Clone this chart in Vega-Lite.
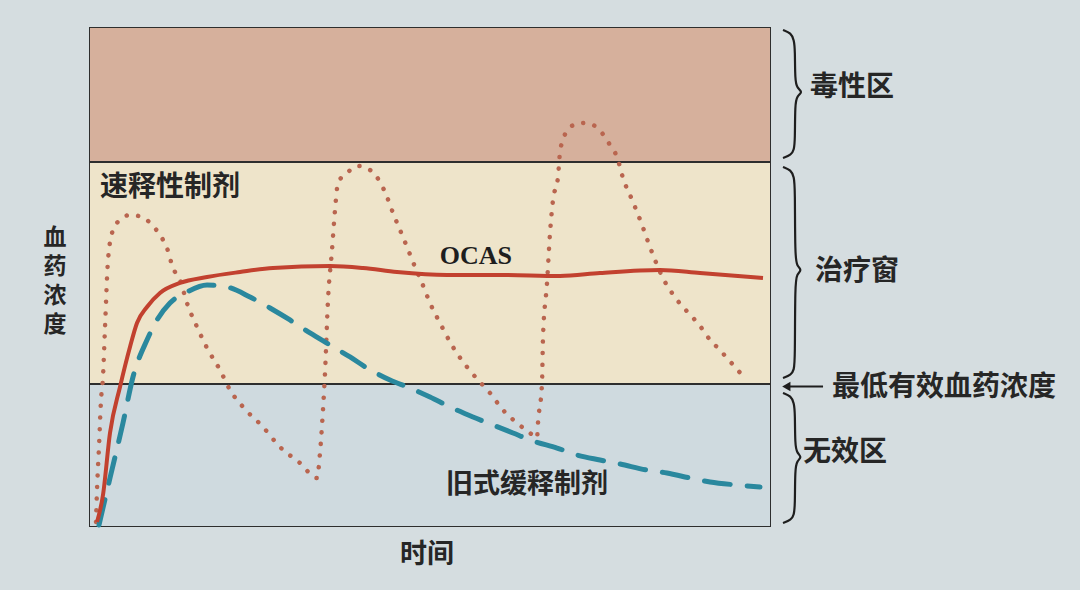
{
  "$schema": "https://vega.github.io/schema/vega-lite/v6.json",
  "width": 680,
  "height": 498,
  "autosize": {"type": "none"},
  "padding": {"left": 90, "top": 28, "right": 310, "bottom": 64},
  "background": "#d5dde0",
  "config": {"view": {"stroke": "#2e2e2e", "strokeWidth": 2}},
  "datasets": {
    "zones": [
      {"zone": "无效区", "lo": 0, "hi": 28.5},
      {"zone": "治疗窗", "lo": 28.5, "hi": 73.1},
      {"zone": "毒性区", "lo": 73.1, "hi": 100}
    ],
    "limits": [{"c": 28.5}, {"c": 73.1}],
    "ocas": [
      {"i": 0, "t": 1.03, "c": 0.8}, {"i": 1, "t": 1.91, "c": 6.22}, {"i": 2, "t": 2.94, "c": 18.67},
      {"i": 3, "t": 4.41, "c": 27.91}, {"i": 4, "t": 5.88, "c": 35.94}, {"i": 5, "t": 6.91, "c": 40.76},
      {"i": 6, "t": 8.38, "c": 43.98}, {"i": 7, "t": 10.29, "c": 46.79}, {"i": 8, "t": 13.24, "c": 48.8},
      {"i": 9, "t": 17.21, "c": 50.0}, {"i": 10, "t": 22.06, "c": 51.0}, {"i": 11, "t": 26.91, "c": 51.81},
      {"i": 12, "t": 35.29, "c": 52.21}, {"i": 13, "t": 40.15, "c": 51.81}, {"i": 14, "t": 45.15, "c": 51.0},
      {"i": 15, "t": 52.5, "c": 50.4}, {"i": 16, "t": 60.29, "c": 50.4}, {"i": 17, "t": 69.12, "c": 50.2},
      {"i": 18, "t": 75.0, "c": 50.8}, {"i": 19, "t": 83.82, "c": 51.41}, {"i": 20, "t": 89.71, "c": 50.8},
      {"i": 21, "t": 98.97, "c": 49.8}
    ],
    "old": [
      {"i": 0, "t": 1.32, "c": 0.2}, {"i": 1, "t": 2.94, "c": 9.64}, {"i": 2, "t": 4.85, "c": 20.68},
      {"i": 3, "t": 6.32, "c": 29.92}, {"i": 4, "t": 8.38, "c": 37.35}, {"i": 5, "t": 9.85, "c": 41.37},
      {"i": 6, "t": 11.76, "c": 44.78}, {"i": 7, "t": 14.26, "c": 46.99}, {"i": 8, "t": 17.21, "c": 48.39},
      {"i": 9, "t": 20.15, "c": 47.99}, {"i": 10, "t": 23.53, "c": 45.98}, {"i": 11, "t": 26.47, "c": 43.78},
      {"i": 12, "t": 29.41, "c": 41.37}, {"i": 13, "t": 32.35, "c": 38.76}, {"i": 14, "t": 35.29, "c": 36.35},
      {"i": 15, "t": 38.24, "c": 33.94}, {"i": 16, "t": 40.74, "c": 31.73}, {"i": 17, "t": 44.12, "c": 29.32},
      {"i": 18, "t": 47.06, "c": 27.71}, {"i": 19, "t": 50.0, "c": 25.9}, {"i": 20, "t": 52.94, "c": 23.9},
      {"i": 21, "t": 56.32, "c": 21.89}, {"i": 22, "t": 59.26, "c": 20.28}, {"i": 23, "t": 62.21, "c": 18.67},
      {"i": 24, "t": 65.15, "c": 17.07}, {"i": 25, "t": 68.68, "c": 15.66}, {"i": 26, "t": 71.62, "c": 14.26},
      {"i": 27, "t": 75.0, "c": 13.25}, {"i": 28, "t": 77.94, "c": 12.45}, {"i": 29, "t": 81.91, "c": 11.24},
      {"i": 30, "t": 84.85, "c": 10.64}, {"i": 31, "t": 88.24, "c": 9.64}, {"i": 32, "t": 91.18, "c": 8.84},
      {"i": 33, "t": 95.15, "c": 8.23}, {"i": 34, "t": 98.53, "c": 7.83}
    ],
    "ir": [
      {"i": 0, "t": 0.88, "c": 0.8}, {"i": 1, "t": 1.03, "c": 7.23}, {"i": 2, "t": 1.32, "c": 15.86},
      {"i": 3, "t": 1.62, "c": 25.3}, {"i": 4, "t": 1.91, "c": 29.92}, {"i": 5, "t": 2.21, "c": 39.96},
      {"i": 6, "t": 2.65, "c": 53.41}, {"i": 7, "t": 3.38, "c": 59.44}, {"i": 8, "t": 4.41, "c": 61.45},
      {"i": 9, "t": 5.88, "c": 62.45}, {"i": 10, "t": 7.65, "c": 62.05}, {"i": 11, "t": 9.12, "c": 60.44},
      {"i": 12, "t": 10.29, "c": 58.43}, {"i": 13, "t": 11.32, "c": 55.82}, {"i": 14, "t": 12.21, "c": 51.81},
      {"i": 15, "t": 13.24, "c": 49.4}, {"i": 16, "t": 14.26, "c": 44.78}, {"i": 17, "t": 15.74, "c": 39.96},
      {"i": 18, "t": 17.21, "c": 35.74}, {"i": 19, "t": 19.12, "c": 31.33}, {"i": 20, "t": 20.59, "c": 27.31},
      {"i": 21, "t": 22.5, "c": 23.9}, {"i": 22, "t": 25.44, "c": 19.88}, {"i": 23, "t": 27.94, "c": 15.86},
      {"i": 24, "t": 30.88, "c": 12.65}, {"i": 25, "t": 33.38, "c": 9.64}, {"i": 26, "t": 33.82, "c": 14.66},
      {"i": 27, "t": 34.26, "c": 23.29}, {"i": 28, "t": 34.56, "c": 30.72}, {"i": 29, "t": 35.0, "c": 45.38},
      {"i": 30, "t": 35.59, "c": 55.42}, {"i": 31, "t": 36.03, "c": 63.45}, {"i": 32, "t": 36.47, "c": 68.88},
      {"i": 33, "t": 37.79, "c": 70.88}, {"i": 34, "t": 39.41, "c": 72.29}, {"i": 35, "t": 41.18, "c": 71.49},
      {"i": 36, "t": 42.65, "c": 69.08}, {"i": 37, "t": 43.68, "c": 66.06}, {"i": 38, "t": 44.56, "c": 62.85},
      {"i": 39, "t": 45.59, "c": 59.44}, {"i": 40, "t": 46.62, "c": 56.02}, {"i": 41, "t": 47.5, "c": 53.01},
      {"i": 42, "t": 48.82, "c": 48.8}, {"i": 43, "t": 50.0, "c": 44.78}, {"i": 44, "t": 51.47, "c": 40.76},
      {"i": 45, "t": 53.38, "c": 35.94}, {"i": 46, "t": 55.44, "c": 31.93}, {"i": 47, "t": 57.06, "c": 29.32},
      {"i": 48, "t": 58.82, "c": 26.71}, {"i": 49, "t": 60.74, "c": 23.29}, {"i": 50, "t": 62.79, "c": 20.68},
      {"i": 51, "t": 64.71, "c": 18.67}, {"i": 52, "t": 65.74, "c": 17.67}, {"i": 53, "t": 65.88, "c": 20.68},
      {"i": 54, "t": 66.47, "c": 28.71}, {"i": 55, "t": 66.62, "c": 37.95}, {"i": 56, "t": 67.21, "c": 48.8},
      {"i": 57, "t": 67.65, "c": 58.84}, {"i": 58, "t": 68.09, "c": 65.46}, {"i": 59, "t": 68.82, "c": 70.08},
      {"i": 60, "t": 69.12, "c": 75.1}, {"i": 61, "t": 69.56, "c": 77.51}, {"i": 62, "t": 70.59, "c": 80.12},
      {"i": 63, "t": 72.35, "c": 80.92}, {"i": 64, "t": 73.97, "c": 80.52}, {"i": 65, "t": 75.29, "c": 78.92},
      {"i": 66, "t": 76.47, "c": 76.51}, {"i": 67, "t": 77.5, "c": 74.1}, {"i": 68, "t": 78.38, "c": 69.88},
      {"i": 69, "t": 79.85, "c": 65.06}, {"i": 70, "t": 81.18, "c": 60.44}, {"i": 71, "t": 82.35, "c": 56.02},
      {"i": 72, "t": 83.09, "c": 53.41}, {"i": 73, "t": 84.56, "c": 49.0}, {"i": 74, "t": 85.59, "c": 46.79},
      {"i": 75, "t": 90.15, "c": 39.36}, {"i": 76, "t": 91.18, "c": 37.35}, {"i": 77, "t": 92.35, "c": 35.74},
      {"i": 78, "t": 93.68, "c": 33.73}, {"i": 79, "t": 94.85, "c": 31.93}, {"i": 80, "t": 96.03, "c": 30.12}
    ],
    "braces": [
      {"b": 1, "i": 0, "t": 101.91, "c": 99.6}, {"b": 1, "i": 1, "t": 103.09, "c": 98.99}, {"b": 1, "i": 2, "t": 103.53, "c": 97.59},
      {"b": 1, "i": 3, "t": 103.68, "c": 95.58}, {"b": 1, "i": 4, "t": 103.68, "c": 89.56}, {"b": 1, "i": 5, "t": 103.97, "c": 87.95},
      {"b": 1, "i": 6, "t": 104.85, "c": 87.15}, {"b": 1, "i": 7, "t": 103.97, "c": 86.35}, {"b": 1, "i": 8, "t": 103.68, "c": 84.74},
      {"b": 1, "i": 9, "t": 103.68, "c": 77.51}, {"b": 1, "i": 10, "t": 103.53, "c": 75.5}, {"b": 1, "i": 11, "t": 103.09, "c": 74.5},
      {"b": 1, "i": 12, "t": 101.91, "c": 73.9},
      {"b": 2, "i": 0, "t": 101.91, "c": 72.09}, {"b": 2, "i": 1, "t": 103.09, "c": 71.49}, {"b": 2, "i": 2, "t": 103.53, "c": 70.08},
      {"b": 2, "i": 3, "t": 103.68, "c": 68.07}, {"b": 2, "i": 4, "t": 103.68, "c": 54.02}, {"b": 2, "i": 5, "t": 103.97, "c": 52.21},
      {"b": 2, "i": 6, "t": 104.71, "c": 51.41}, {"b": 2, "i": 7, "t": 103.97, "c": 50.6}, {"b": 2, "i": 8, "t": 103.68, "c": 48.8},
      {"b": 2, "i": 9, "t": 103.68, "c": 33.33}, {"b": 2, "i": 10, "t": 103.53, "c": 31.33}, {"b": 2, "i": 11, "t": 103.09, "c": 30.32},
      {"b": 2, "i": 12, "t": 101.91, "c": 29.72},
      {"b": 3, "i": 0, "t": 101.91, "c": 26.71}, {"b": 3, "i": 1, "t": 103.09, "c": 26.1}, {"b": 3, "i": 2, "t": 103.53, "c": 24.7},
      {"b": 3, "i": 3, "t": 103.68, "c": 22.69}, {"b": 3, "i": 4, "t": 103.68, "c": 16.27}, {"b": 3, "i": 5, "t": 103.97, "c": 14.66},
      {"b": 3, "i": 6, "t": 104.71, "c": 13.86}, {"b": 3, "i": 7, "t": 103.97, "c": 13.05}, {"b": 3, "i": 8, "t": 103.68, "c": 11.45},
      {"b": 3, "i": 9, "t": 103.68, "c": 4.22}, {"b": 3, "i": 10, "t": 103.53, "c": 2.21}, {"b": 3, "i": 11, "t": 103.09, "c": 1.2},
      {"b": 3, "i": 12, "t": 101.91, "c": 0.6}
    ],
    "labelsLeft": [
      {"t": 1.47, "c": 67.87, "label": "速释性制剂"},
      {"t": 105.88, "c": 87.95, "label": "毒性区"},
      {"t": 106.62, "c": 51.0, "label": "治疗窗"},
      {"t": 109.12, "c": 27.71, "label": "最低有效血药浓度"},
      {"t": 104.85, "c": 14.66, "label": "无效区"}
    ],
    "labelsCenter": [
      {"t": 64.26, "c": 8.23, "label": "旧式缓释制剂"},
      {"t": 49.56, "c": -5.82, "label": "时间"}
    ],
    "ocasLabel": [{"t": 56.76, "c": 54.22, "label": "OCAS"}],
    "yTitle": [{"t": -5.15, "c": 57.83, "label": "血\n药\n浓\n度"}],
    "arrow": [{"t": 102.4, "t2": 107.8, "c": 28.0}]
  },
  "layer": [
    {
      "data": {"name": "zones"},
      "mark": {"type": "rect"},
      "encoding": {
        "y": {"field": "lo", "type": "quantitative", "scale": {"domain": [0, 100], "nice": false}, "axis": null},
        "y2": {"field": "hi"},
        "color": {"field": "zone", "type": "nominal", "legend": null,
          "scale": {"domain": ["无效区", "治疗窗", "毒性区"], "range": ["#cfdadf", "#eee4ca", "#d6b09c"]}}
      }
    },
    {
      "data": {"name": "limits"},
      "mark": {"type": "rule", "color": "#2e2e2e", "strokeWidth": 2},
      "encoding": {
        "y": {"field": "c", "type": "quantitative", "scale": {"domain": [0, 100], "nice": false}, "axis": null}
      }
    },
    {
      "data": {"name": "ir"},
      "mark": {"type": "line", "color": "#b9654f", "strokeWidth": 4.5, "strokeDash": [0.1, 11.5], "strokeCap": "round", "interpolate": "monotone"},
      "encoding": {
        "x": {"field": "t", "type": "quantitative", "scale": {"domain": [0, 100], "nice": false}, "axis": null},
        "y": {"field": "c", "type": "quantitative", "scale": {"domain": [0, 100], "nice": false}, "axis": null},
        "order": {"field": "i", "type": "quantitative"}
      }
    },
    {
      "data": {"name": "old"},
      "mark": {"type": "line", "color": "#2a889e", "strokeWidth": 5, "strokeDash": [26, 17], "strokeCap": "round", "interpolate": "monotone"},
      "encoding": {
        "x": {"field": "t", "type": "quantitative"},
        "y": {"field": "c", "type": "quantitative"},
        "order": {"field": "i", "type": "quantitative"}
      }
    },
    {
      "data": {"name": "ocas"},
      "mark": {"type": "line", "color": "#c2412f", "strokeWidth": 4, "interpolate": "monotone"},
      "encoding": {
        "x": {"field": "t", "type": "quantitative"},
        "y": {"field": "c", "type": "quantitative"},
        "order": {"field": "i", "type": "quantitative"}
      }
    },
    {
      "data": {"name": "braces"},
      "mark": {"type": "line", "color": "#1e1e1e", "strokeWidth": 2.2, "interpolate": "basis"},
      "encoding": {
        "x": {"field": "t", "type": "quantitative"},
        "y": {"field": "c", "type": "quantitative"},
        "detail": {"field": "b", "type": "nominal"},
        "order": {"field": "i", "type": "quantitative"}
      }
    },
    {
      "data": {"name": "arrow"},
      "mark": {"type": "rule", "color": "#1e1e1e", "strokeWidth": 2},
      "encoding": {
        "x": {"field": "t", "type": "quantitative"},
        "x2": {"field": "t2"},
        "y": {"field": "c", "type": "quantitative"}
      }
    },
    {
      "data": {"name": "arrow"},
      "mark": {"type": "point", "shape": "triangle-left", "filled": true, "color": "#1e1e1e", "size": 90, "opacity": 1},
      "encoding": {
        "x": {"field": "t", "type": "quantitative"},
        "y": {"field": "c", "type": "quantitative"}
      }
    },
    {
      "data": {"name": "labelsLeft"},
      "mark": {"type": "text", "align": "left", "baseline": "middle", "font": "Noto Sans CJK SC", "fontSize": 28, "fontWeight": "bold", "color": "#262626"},
      "encoding": {
        "x": {"field": "t", "type": "quantitative"},
        "y": {"field": "c", "type": "quantitative"},
        "text": {"field": "label", "type": "nominal"}
      }
    },
    {
      "data": {"name": "labelsCenter"},
      "mark": {"type": "text", "align": "center", "baseline": "middle", "font": "Noto Sans CJK SC", "fontSize": 27, "fontWeight": "bold", "color": "#262626"},
      "encoding": {
        "x": {"field": "t", "type": "quantitative"},
        "y": {"field": "c", "type": "quantitative"},
        "text": {"field": "label", "type": "nominal"}
      }
    },
    {
      "data": {"name": "ocasLabel"},
      "mark": {"type": "text", "align": "center", "baseline": "middle", "font": "Liberation Serif", "fontSize": 26, "fontWeight": "bold", "color": "#1e1e1e"},
      "encoding": {
        "x": {"field": "t", "type": "quantitative"},
        "y": {"field": "c", "type": "quantitative"},
        "text": {"field": "label", "type": "nominal"}
      }
    },
    {
      "data": {"name": "yTitle"},
      "mark": {"type": "text", "align": "center", "baseline": "middle", "lineBreak": "\n", "lineHeight": 29, "font": "Noto Sans CJK SC", "fontSize": 23, "fontWeight": "bold", "color": "#262626"},
      "encoding": {
        "x": {"field": "t", "type": "quantitative"},
        "y": {"field": "c", "type": "quantitative"},
        "text": {"field": "label", "type": "nominal"}
      }
    }
  ]
}
